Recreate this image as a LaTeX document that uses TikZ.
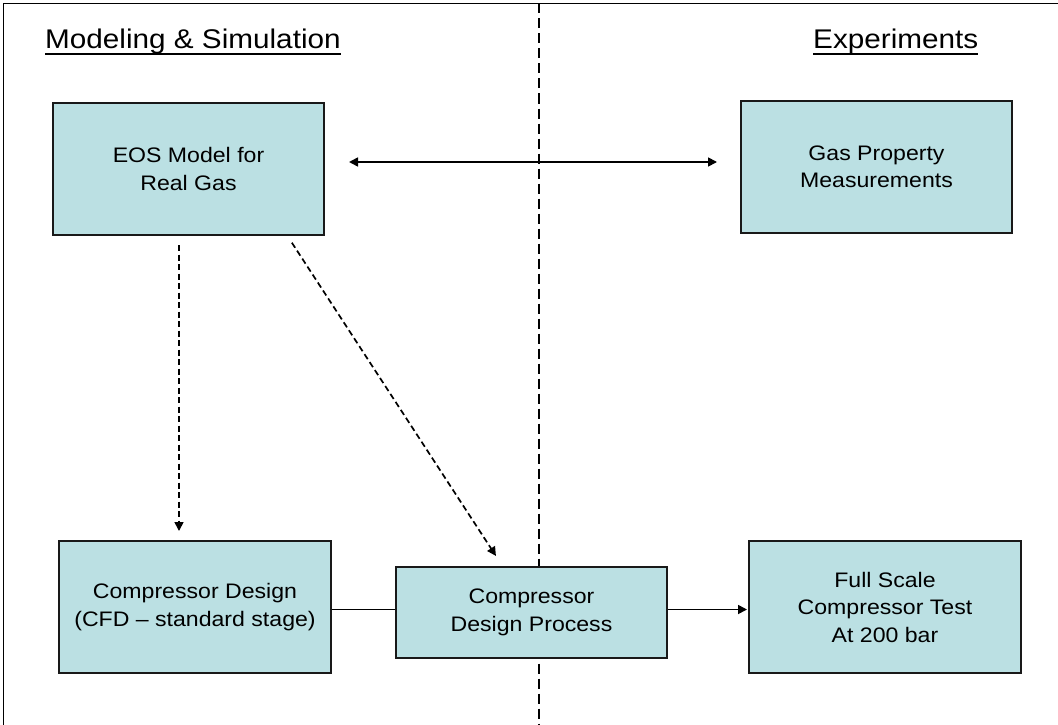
\documentclass[tikz,border=0pt]{standalone}
\usepackage{fontspec}
\setmainfont{Liberation Sans}[FakeStretch=1.1]
\usetikzlibrary{arrows.meta,calc}
\definecolor{boxfill}{RGB}{187,224,227}
\definecolor{boxline}{RGB}{25,25,25}
\begin{document}
\begin{tikzpicture}[x=1pt,y=-1pt,
  box/.style={draw=boxline,line width=2pt,fill=boxfill,inner sep=0pt,align=center,
    font=\fontsize{21}{27.5}\selectfont},
  title/.style={inner sep=0pt,anchor=base west,font=\fontsize{27}{32}\selectfont},
  conn/.style={line width=1.7pt,draw=black},
  dasharrow/.style={conn,dash pattern=on 6pt off 3.5pt,-{Triangle[length=9pt,width=9pt]}},
  divider/.style={line width=1.5pt,dash pattern=on 10pt off 5pt},
  tip/.style={-{Triangle[length=9pt,width=9pt]}}
]
\useasboundingbox (0,0) rectangle (1058,725);
% frame
\draw[line width=1.8pt] (3.5,725) -- (3.5,3.5) -- (1058,3.5);
% divider
\draw[divider] (539,3.5) -- (539,725);
% titles
\node[title] (ms) at (45,49) {Modeling \& Simulation};
\node[title] (ex) at (813,49) {Experiments};
\draw[line width=1.6pt] ([yshift=-5pt]ms.base west) -- ([yshift=-5pt]ms.base east);
\draw[line width=1.6pt] ([yshift=-5pt]ex.base west) -- ([yshift=-5pt]ex.base east);
% boxes
\node[box,minimum width=271pt,minimum height=132pt] (eos) at (188.5,169) {EOS Model for\\Real Gas};
\node[box,minimum width=271pt,minimum height=132pt] (gas) at (876.5,167) {Gas Property\\Measurements};
\node[box,minimum width=272pt,minimum height=132pt] (cd) at (195,607) {Compressor Design\\(CFD – standard stage)};
\node[box,minimum width=271pt,minimum height=91pt] (cdp) at (531.5,612.5) {Compressor\\Design Process};
\node[box,minimum width=272pt,minimum height=132pt] (fs) at (885,607) {Full Scale\\Compressor Test\\At 200 bar};
% connectors
\draw[conn,{Triangle[length=9pt,width=9pt]}-{Triangle[length=9pt,width=9pt]},shorten <=24pt,shorten >=23pt]
  ([yshift=7pt]eos.east) -- ([yshift=7pt]eos.east -| gas.west);
\path (eos.south west) ++(127,0) coordinate (e1);
\path (cd.north west) ++(121,0) coordinate (c1);
\draw[dasharrow,shorten <=9pt,shorten >=9pt] (e1) -- (c1);
\path (eos.south west) ++(235.5,0) coordinate (e2);
\path (cdp.north west) ++(107.5,0) coordinate (p2);
\draw[dasharrow,shorten <=8pt,shorten >=12pt] (e2) -- (p2);
\draw[conn] ([yshift=3pt]cdp.west -| cd.east) -- ([yshift=3pt]cdp.west);
\draw[conn,tip,shorten >=1pt] ([yshift=3pt]cdp.east) -- ([yshift=3pt]cdp.east -| fs.west);
\end{tikzpicture}
\end{document}
